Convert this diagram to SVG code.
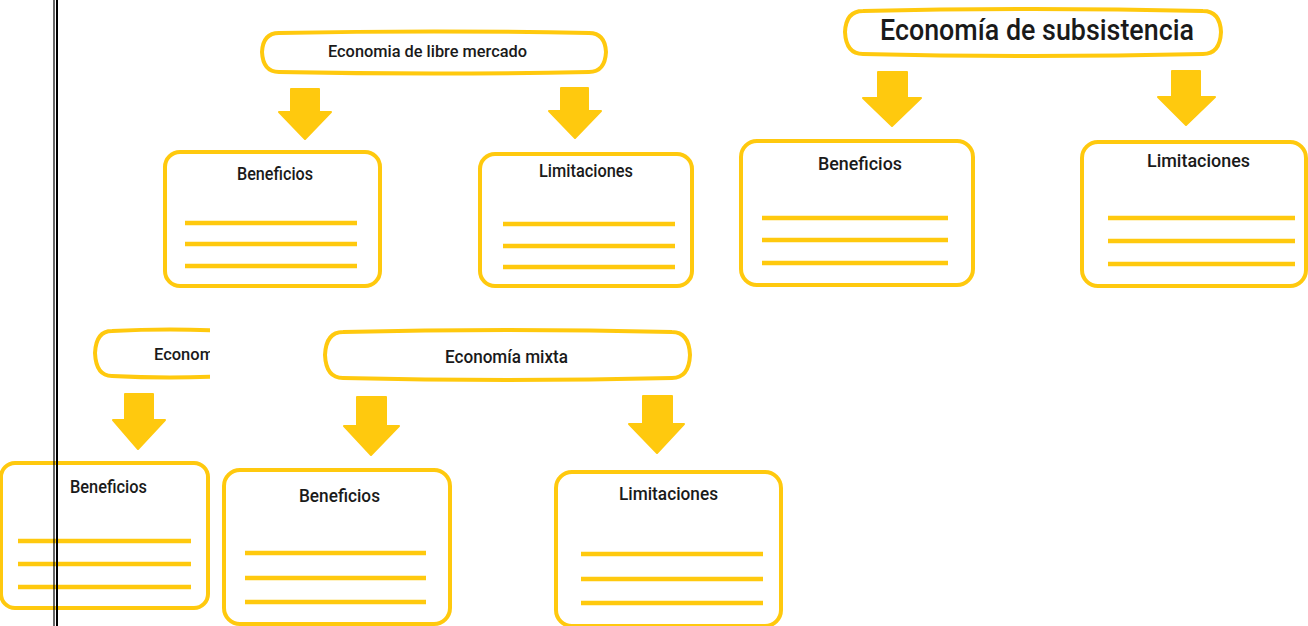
<svg xmlns="http://www.w3.org/2000/svg" width="1308" height="626" viewBox="0 0 1308 626">
<style>
.box{fill:#fff;stroke:#FFC90E;stroke-width:4}
.pill{fill:#fff;stroke:#FFC90E;stroke-width:4}
.ln{stroke:#FFC90E;stroke-width:4.5}
.arr{fill:#FFC90E;stroke:#FFC90E;stroke-width:2;stroke-linejoin:round}
.t{font-family:Roboto,"Liberation Sans",sans-serif;font-weight:500;fill:#1a1a1a;text-anchor:start}
</style>
<defs>
<clipPath id="cl"><rect x="0" y="0" width="210" height="626"/></clipPath>
</defs>
<rect width="1308" height="626" fill="#fff"/>

<g id="n-libre">
<path class="pill" d="M279,33 Q434,30 589,33 Q605,33 606,52 Q605,72 589,72 Q434,75 279,72 Q263,72 262,52 Q263,33 279,33 Z"/>
<text class="t" x="328" y="57" font-size="17" textLength="199" lengthAdjust="spacingAndGlyphs">Economia de libre mercado</text>
</g>
<g id="n-libre-ben">
<rect class="box" x="165" y="152" width="215" height="134" rx="15"/>
<text class="t" x="237" y="180" font-size="18" textLength="76" lengthAdjust="spacingAndGlyphs">Beneficios</text>
<line class="ln" x1="185" y1="223" x2="357" y2="223"/><line class="ln" x1="185" y1="244" x2="357" y2="244"/><line class="ln" x1="185" y1="266" x2="357" y2="266"/>
</g>
<g id="n-libre-lim">
<rect class="box" x="480" y="154" width="212" height="132" rx="15"/>
<text class="t" x="539" y="177" font-size="18" textLength="94" lengthAdjust="spacingAndGlyphs">Limitaciones</text>
<line class="ln" x1="503" y1="224" x2="675" y2="224"/><line class="ln" x1="503" y1="246" x2="675" y2="246"/><line class="ln" x1="503" y1="267" x2="675" y2="267"/>
</g>

<g id="n-subs">
<path class="pill" d="M863,11 Q1033,7 1203,11 Q1220,11 1221,32 Q1220,54 1203,54 Q1033,58 863,54 Q846,54 845,32 Q846,11 863,11 Z"/>
<text class="t" x="880" y="40" font-size="29" textLength="314" lengthAdjust="spacingAndGlyphs">Economía de subsistencia</text>
</g>
<g id="n-subs-ben">
<rect class="box" x="741" y="141" width="232" height="144" rx="16"/>
<text class="t" x="818" y="170" font-size="19" textLength="84" lengthAdjust="spacingAndGlyphs">Beneficios</text>
<line class="ln" x1="762" y1="218" x2="948" y2="218"/><line class="ln" x1="762" y1="240" x2="948" y2="240"/><line class="ln" x1="762" y1="263" x2="948" y2="263"/>
</g>
<g id="n-subs-lim">
<rect class="box" x="1082" y="142" width="224" height="144" rx="16"/>
<text class="t" x="1147" y="167" font-size="19" textLength="103" lengthAdjust="spacingAndGlyphs">Limitaciones</text>
<line class="ln" x1="1108" y1="218" x2="1295" y2="218"/><line class="ln" x1="1108" y1="241" x2="1295" y2="241"/><line class="ln" x1="1108" y1="264" x2="1295" y2="264"/>
</g>

<g id="n-left" clip-path="url(#cl)">
<path class="pill" d="M112,331 Q170,328 228,331 Q244,331 245,353 Q244,376 228,376 Q170,379 112,376 Q96,376 95,353 Q96,331 112,331 Z"/>
<text class="t" x="154" y="360" font-size="17" textLength="60" lengthAdjust="spacingAndGlyphs">Econom</text>
</g>
<g id="n-left-ben" clip-path="url(#cl)">
<rect class="box" x="1" y="463" width="207" height="145" rx="14"/>
<text class="t" x="70" y="493" font-size="18" textLength="77" lengthAdjust="spacingAndGlyphs">Beneficios</text>
<line class="ln" x1="18" y1="541" x2="191" y2="541"/><line class="ln" x1="18" y1="564" x2="191" y2="564"/><line class="ln" x1="18" y1="587" x2="191" y2="587"/>
</g>

<g id="n-mixta">
<path class="pill" d="M343,332 Q507,328 672,332 Q689,332 690,355 Q689,378 672,378 Q507,382 343,378 Q326,378 325,355 Q326,332 343,332 Z"/>
<text class="t" x="445" y="363" font-size="19" textLength="123" lengthAdjust="spacingAndGlyphs">Economía mixta</text>
</g>
<g id="n-mixta-ben">
<rect class="box" x="224" y="470" width="226" height="154" rx="16"/>
<text class="t" x="299" y="502" font-size="19" textLength="81" lengthAdjust="spacingAndGlyphs">Beneficios</text>
<line class="ln" x1="245" y1="553" x2="426" y2="553"/><line class="ln" x1="245" y1="578" x2="426" y2="578"/><line class="ln" x1="245" y1="602" x2="426" y2="602"/>
</g>
<g id="n-mixta-lim">
<rect class="box" x="556" y="472" width="225" height="154" rx="16"/>
<text class="t" x="619" y="500" font-size="19" textLength="99" lengthAdjust="spacingAndGlyphs">Limitaciones</text>
<line class="ln" x1="581" y1="554" x2="763" y2="554"/><line class="ln" x1="581" y1="579" x2="763" y2="579"/><line class="ln" x1="581" y1="603" x2="763" y2="603"/>
</g>

<g id="connectors">
<polygon class="arr" points="291,89 319,89 319,112 331,112 305,139 279,112 291,112"/>
<polygon class="arr" points="561,88 588,88 588,111 601,111 575,138 549,111 561,111"/>
<polygon class="arr" points="878,72 907,72 907,98 921,98 892,126 863,98 878,98"/>
<polygon class="arr" points="1172,71 1200,71 1200,97 1215,97 1186,125 1158,97 1172,97"/>
<polygon class="arr" points="125,394 153,394 153,420 165,420 138,449 113,420 125,420"/>
<polygon class="arr" points="357,397 386,397 386,426 399,426 371,455 344,426 357,426"/>
<polygon class="arr" points="643,396 672,396 672,424 684,424 657,453 629,424 643,424"/>
</g>

<g id="frame">
<line x1="54" y1="0" x2="54" y2="626" stroke="#000" stroke-width="1.2"/>
<line x1="57" y1="0" x2="57" y2="626" stroke="#000" stroke-width="2"/>
</g>
</svg>
